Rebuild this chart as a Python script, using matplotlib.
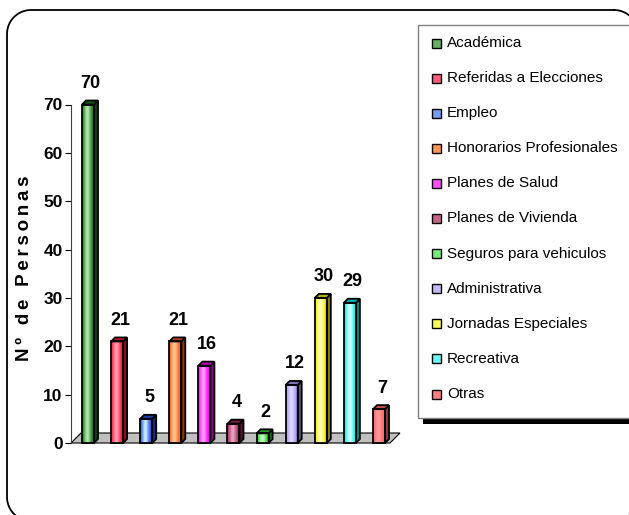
import numpy as np
import matplotlib
matplotlib.use("Agg")
import matplotlib.pyplot as plt
from matplotlib.patches import Rectangle, Polygon
from matplotlib.colors import to_rgb

plt.rcParams['font.family'] = ['Liberation Sans', 'DejaVu Sans']

# categories and counts
categorias = ["Académica", "Referidas a Elecciones", "Empleo", "Honorarios Profesionales",
              "Planes de Salud", "Planes de Vivienda", "Seguros para vehiculos",
              "Administrativa", "Jornadas Especiales", "Recreativa", "Otras"]
personas = [70, 21, 5, 21, 16, 4, 2, 12, 30, 29, 7]

# base / highlight colour per series
base_colors = ["#1a7a1a", "#ff1a3c", "#2850e0", "#ff6010", "#ff00ff", "#a02858",
               "#30d030", "#a898f0", "#f0f000", "#00f0f0", "#ff6868"]
light_colors = ["#b0e8a8", "#ffa0b4", "#c8ecff", "#ffc898", "#ffa0ff", "#e8a0c0",
                "#c0ffc0", "#e0d8ff", "#ffffc0", "#d0ffff", "#ff9898"]

W, H = 629, 515
fig = plt.figure(figsize=(W / 100, H / 100), dpi=100)

# background layer in pixel coordinates (frame + legend)
bg = fig.add_axes([0, 0, 1, 1], zorder=0)
bg.set_xlim(0, W)
bg.set_ylim(H, 0)
bg.axis("off")


def rounded_frame(x0, y0, x1, y1, r, n=20):
    # outline of a rounded rectangle, y grows downward
    pts = []
    corners = [(x1 - r, y0 + r, -90, 0), (x1 - r, y1 - r, 0, 90),
               (x0 + r, y1 - r, 90, 180), (x0 + r, y0 + r, 180, 270)]
    for cx, cy, a0, a1 in corners:
        a = np.radians(np.linspace(a0, a1, n))
        pts.extend(zip(cx + r * np.cos(a), cy + r * np.sin(a)))
    pts.append(pts[0])
    return np.array(pts)


frame = rounded_frame(7, 10, 638, 521, 24)
bg.plot(frame[:, 0], frame[:, 1], color="black", lw=1.3)

# main plot area: y=0 at 443px, y=80 at ~56px
px_left, px_right, px_base = 71, 390, 443
px_per_unit = (443 - 104.5) / 70
ymax = 80
ax = fig.add_axes([px_left / W, (H - px_base) / H, (px_right - px_left) / W,
                   ymax * px_per_unit / H], zorder=1)
ax.patch.set_alpha(0)
bar_pitch = 29.1
xl = -(88 - px_left) / bar_pitch
xr = xl + (px_right - px_left) / bar_pitch
ax.set_xlim(xl, xr)
ax.set_ylim(0, ymax)

# pixel -> data conversion for the 3D depth
dx = lambda p: p / bar_pitch
dy = lambda p: p / px_per_unit

# floor
fd = 10
ax.add_patch(Polygon([(xl, 0), (xr, 0), (xr + dx(fd), dy(fd)), (xl + dx(fd), dy(fd))],
                     closed=True, facecolor="#c0c0c0", edgecolor="black", lw=0.8,
                     clip_on=False, zorder=1))

bw = 12 / bar_pitch
bd = 4
t = np.linspace(0, 1, 64)
blend = np.exp(-((t - 0.45) / 0.28) ** 2)
for i, (v, bc, lc) in enumerate(zip(personas, base_colors, light_colors)):
    b = np.array(to_rgb(bc))
    l = np.array(to_rgb(lc))
    x0 = i - bw / 2
    # front face with a horizontal shading
    grad = (b[None, :] * (1 - blend[:, None]) + l[None, :] * blend[:, None])[None, :, :]
    front = Rectangle((x0, 0), bw, v, facecolor="none", edgecolor="black", lw=1.3, zorder=4,
                      clip_on=False)
    ax.add_patch(front)
    im = ax.imshow(grad, extent=(x0, x0 + bw, 0, v), aspect="auto", zorder=3,
                   interpolation="bilinear", clip_on=False)
    im.set_clip_path(front)
    # side and top faces
    ax.add_patch(Polygon([(x0 + bw, 0), (x0 + bw + dx(bd), dy(bd)), (x0 + bw + dx(bd), v + dy(bd)),
                          (x0 + bw, v)], closed=True, facecolor=b * 0.55, edgecolor="black",
                         lw=1.3, zorder=3, clip_on=False))
    ax.add_patch(Polygon([(x0, v), (x0 + bw, v), (x0 + bw + dx(bd), v + dy(bd)),
                          (x0 + dx(bd), v + dy(bd))], closed=True, facecolor=b * 0.75,
                         edgecolor="black", lw=1.3, zorder=3, clip_on=False))
    ax.annotate(str(v), (i, v), xytext=(2, 9), textcoords="offset points",
                ha="center", va="bottom", fontsize=13, fontweight="bold")

ax.set_xticks([])
ax.set_yticks(range(0, 71, 10))
ax.tick_params(axis="y", length=4, width=0.8, pad=2, labelsize=12.5)
for lab in ax.get_yticklabels():
    lab.set_fontweight("bold")
for s in ("top", "right", "bottom"):
    ax.spines[s].set_visible(False)
ax.spines["left"].set_bounds(0, 70)
ax.spines["left"].set_linewidth(0.8)
ax.spines["left"].set_color("#404040")

# spaced-out axis title
ts = "\u2009"
titulo = (ts + " " + ts).join(ts.join(word) for word in ["Nº", "de", "Personas"])
bg.text(25, 268, titulo, rotation=90, ha="center", va="center",
        fontsize=13.5, fontweight="bold")

# legend box with shadow
bg.add_patch(Rectangle((423, 418), 260, 6, facecolor="black", edgecolor="none"))
bg.add_patch(Rectangle((418, 25), 260, 393, facecolor="white", edgecolor="#808080", lw=1.0))
for i, (name, bc, lc) in enumerate(zip(categorias, base_colors, light_colors)):
    yc = 43 + 35.1 * i
    fill = 0.5 * np.array(to_rgb(bc)) + 0.5 * np.array(to_rgb(lc))
    bg.add_patch(Rectangle((432, yc - 4.5), 9, 9, facecolor=fill, edgecolor="black", lw=1.0))
    bg.text(447, yc, name, va="center", ha="left", fontsize=11)

fig.savefig("out.png", dpi=100)
